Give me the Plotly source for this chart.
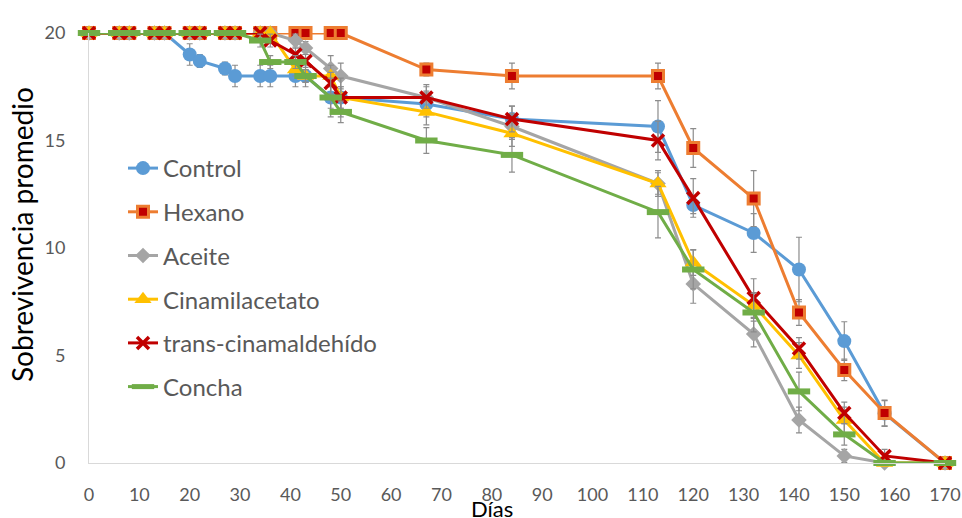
import plotly.graph_objects as go

dias = [0, 6, 8, 13, 15, 20, 22, 27, 29, 34, 36, 41, 43, 48, 50, 67, 84, 113, 120, 132, 141, 150, 158, 170]

control = [20, 20, 20, 20, 20, 19.0, 18.7, 18.35, 18.0, 18.0, 18.0, 18.0, 18.0, 17.0, 17.0, 16.7, 16.0, 15.65, 12.0, 10.7, 9.0, 5.67, 2.3, 0]
control_err = [0, 0, 0, 0, 0, 0.5, 0.3, 0.3, 0.5, 0.5, 0.5, 0.5, 0.5, 0.5, 0.5, 0.6, 0.6, 1.2, 0.4, 0.9, 1.5, 0.9, 0.6, 0]

hexano = [20, 20, 20, 20, 20, 20, 20, 20, 20, 20, 20, 20, 20, 20, 20, 18.3, 18.0, 18.0, 14.65, 12.3, 7.0, 4.33, 2.33, 0]
hexano_err = [0, 0, 0, 0, 0, 0, 0, 0, 0, 0, 0, 0, 0, 0, 0, 0.3, 0.6, 0.6, 0.9, 1.3, 0.6, 0.5, 0.6, 0]

aceite = [20, 20, 20, 20, 20, 20, 20, 20, 20, 20, 20, 19.65, 19.3, 18.35, 18.0, 17.0, 15.65, 13.0, 8.33, 6.0, 2.0, 0.33, 0, 0]
aceite_err = [0, 0, 0, 0, 0, 0, 0, 0, 0, 0, 0, 0.3, 0.3, 0.6, 0.6, 0.6, 0.6, 0.5, 0.9, 0.6, 0.6, 0.3, 0, 0]

cinamil = [20, 20, 20, 20, 20, 20, 20, 20, 20, 20, 20, 18.3, 18.0, 18.0, 17.0, 16.33, 15.33, 13.0, 9.33, 7.33, 5.0, 2.0, 0, 0]
cinamil_err = [0, 0, 0, 0, 0, 0, 0, 0, 0, 0, 0, 0.3, 0.3, 0.5, 0.9, 0.6, 0.6, 0.6, 0.6, 0.6, 0.6, 0.6, 0, 0]

trans = [20, 20, 20, 20, 20, 20, 20, 20, 20, 20, 19.65, 19.0, 18.7, 17.67, 17.0, 17.0, 16.0, 15.0, 12.33, 7.67, 5.33, 2.33, 0.33, 0]
trans_err = [0, 0, 0, 0, 0, 0, 0, 0, 0, 0, 0.3, 0.3, 0.3, 0.5, 0.5, 0.5, 0.6, 0.9, 0.9, 0.9, 0.5, 0.5, 0.3, 0]

concha = [20, 20, 20, 20, 20, 20, 20, 20, 20, 19.65, 18.65, 18.65, 18.0, 17.0, 16.33, 15.0, 14.33, 11.67, 9.0, 7.0, 3.33, 1.33, 0, 0]
concha_err = [0, 0, 0, 0, 0, 0, 0, 0, 0, 0.3, 0.3, 0.3, 0.3, 0.9, 0.5, 0.6, 0.8, 1.2, 0.9, 0.9, 0.9, 0.5, 0, 0]

x_ticks = list(range(0, 171, 10))
y_ticks = [0, 5, 10, 15, 20]

ERR = dict(type="data", visible=True, color="#8c8c8c", thickness=1.2, width=3)

series = [
    ("Control", control, control_err, "#5B9BD5",
     dict(symbol="circle", size=14, color="#5B9BD5", line=dict(width=0))),
    ("Hexano", hexano, hexano_err, "#ED7D31",
     dict(symbol="square", size=11, color="#C00000", line=dict(width=3, color="#ED7D31"))),
    ("Aceite", aceite, aceite_err, "#A5A5A5",
     dict(symbol="diamond", size=12, color="#A5A5A5", line=dict(width=0))),
    ("Cinamilacetato", cinamil, cinamil_err, "#FFC000",
     dict(symbol="triangle-up", size=15, color="#FFC000", line=dict(width=0))),
    ("trans-cinamaldehído", trans, trans_err, "#C00000",
     dict(symbol="x-thin", size=12, color="#C00000", line=dict(width=3.5, color="#C00000"))),
    ("Concha", concha, concha_err, "#70AD47",
     dict(symbol="line-ew", size=16, color="#70AD47", line=dict(width=6, color="#70AD47"))),
]

fig = go.Figure()
for i, (name, ys, errs, col, mk) in enumerate(series):
    fig.add_trace(go.Scatter(
        x=dias, y=ys, name=name, mode="lines+markers",
        line=dict(color=col, width=3),
        marker=mk,
        error_y=dict(array=errs, **ERR),
        cliponaxis=False,
        legendgroup=f"g{i}",
    ))

fig.update_layout(
    width=962, height=518,
    margin=dict(l=89, r=17, t=33, b=55, autoexpand=False),
    paper_bgcolor="white", plot_bgcolor="white",
    font=dict(family="Lato, Carlito, sans-serif", color="#595959", size=18),
    showlegend=True,
    legend=dict(
        x=(123 - 89) / 856, y=(463 - 146) / 430, xanchor="left", yanchor="top",
        xref="paper", yref="paper",
        font=dict(size=24, color="#595959"),
        bgcolor="rgba(0,0,0,0)",
        tracegroupgap=9.5,
        itemwidth=30,
    ),
    xaxis=dict(
        range=[0, 170], tickvals=x_ticks, showgrid=False, zeroline=False,
        showline=True, linecolor="#D9D9D9", linewidth=1, automargin=False,
        ticks="", ticklabelstandoff=15,
        tickfont=dict(size=18, color="#595959"),
    ),
    yaxis=dict(
        range=[0, 20], tickvals=y_ticks, showgrid=False, zeroline=False,
        showline=True, linecolor="#D9D9D9", linewidth=1, automargin=False,
        ticks="", ticklabelstandoff=19,
        tickfont=dict(size=18, color="#595959"),
    ),
    annotations=[
        dict(text="Días", xref="paper", yref="paper", x=(492 - 89) / 856, y=-(508 - 463) / 430,
             xanchor="center", yanchor="middle", showarrow=False,
             font=dict(size=22, color="#000000")),
        dict(text="Sobrevivencia promedio", xref="paper", yref="paper",
             x=-(89 - 22) / 856, y=(463 - 235) / 430, textangle=-90,
             xanchor="center", yanchor="middle", showarrow=False,
             font=dict(size=28, color="#000000")),
    ],
)

fig.write_html("out.html")
